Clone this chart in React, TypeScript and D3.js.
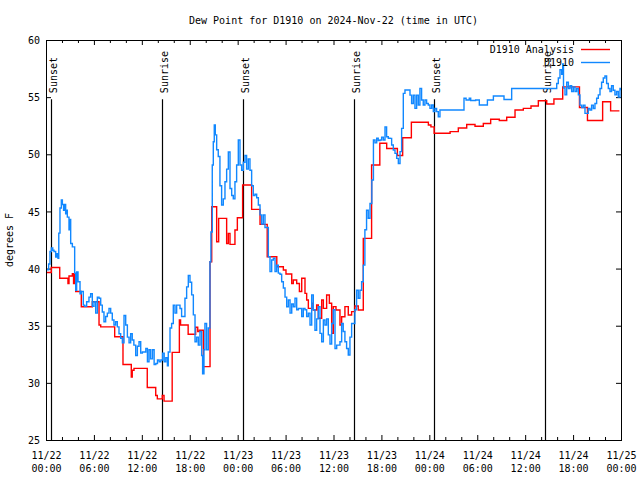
import { useEffect, useRef } from "react";
import * as d3 from "d3";

const TITLE = "Dew Point for D1910 on 2024-Nov-22 (time in UTC)";
const Y_TITLE = "degrees F";
const START_UTC = Date.UTC(2024, 10, 22, 0, 0);
const SPAN_HOURS = 72;

const Y_TICKS = [25, 30, 35, 40, 45, 50, 55, 60];
const X_MAJOR_HOURS = [0, 6, 12, 18, 24, 30, 36, 42, 48, 54, 60, 66, 72];

const SUN_LABELS = ["Sunset", "Sunrise", "Sunset", "Sunrise", "Sunset", "Sunrise"];
const SUN_HOURS = [0.63, 14.53, 24.71, 38.6, 48.62, 62.52];

const LEGEND_LABELS = ["D1910 Analysis", "D1910"];
const SERIES_COLORS = ["#ff0000", "#1188ff"];

// [hours since 11/22 00:00 UTC, deg F]
const ANALYSIS: [number, number][] = [
  [0.0, 39.65], [0.66, 40.1], [1.72, 39.15], [2.75, 38.7], [2.88, 39.35], [3.3, 39.55],
  [3.45, 38.7], [3.55, 39.5], [3.72, 38.0], [4.42, 36.66], [5.8, 37.1], [6.64, 35.06],
  [6.85, 34.9], [8.6, 34.04], [9.64, 31.6], [10.68, 30.5], [10.8, 31.1], [11.02, 31.27],
  [12.68, 29.6], [13.74, 28.9], [13.94, 28.6], [14.56, 28.9], [14.78, 28.4], [15.8, 32.67],
  [16.7, 35.5], [16.85, 35.06], [17.8, 34.25], [18.74, 34.86], [19.0, 34.5], [19.2, 34.6],
  [19.7, 31.42], [20.54, 40.6], [20.75, 45.41], [21.37, 42.35], [21.62, 44.39], [22.62, 42.2],
  [22.83, 43.08], [23.04, 42.12], [23.66, 43.37], [23.96, 44.45], [24.62, 47.31], [25.75, 45.18],
  [26.8, 43.87], [27.7, 41.04], [28.9, 40.16], [29.72, 39.87], [30.05, 39.52], [30.77, 38.7],
  [30.97, 39.0], [31.39, 38.7], [31.73, 38.0], [32.02, 39.15], [32.43, 37.83], [32.64, 37.25],
  [32.85, 36.52], [33.27, 36.96], [33.47, 36.37], [33.89, 36.81], [34.1, 35.65], [34.52, 37.25],
  [34.73, 36.52], [35.14, 37.69], [35.48, 36.96], [35.77, 34.33], [35.98, 36.67], [36.31, 36.37],
  [36.81, 35.06], [37.02, 35.79], [37.43, 36.67], [37.85, 35.94], [38.27, 36.23], [38.68, 36.72],
  [39.1, 36.37], [39.73, 42.64], [40.77, 49.06], [41.8, 50.96], [42.66, 50.5], [44.0, 49.9],
  [44.66, 51.45], [45.75, 52.8], [47.88, 52.56], [48.2, 52.4], [48.6, 51.84], [50.6, 51.98],
  [51.63, 52.3], [52.68, 52.6], [53.72, 52.45], [54.76, 52.7], [55.68, 53.06], [56.76, 52.95],
  [57.69, 53.24], [58.73, 53.87], [59.77, 54.02], [60.73, 54.22], [61.65, 54.68], [62.7, 54.4],
  [63.6, 54.84], [64.7, 55.9], [66.8, 54.1], [67.8, 52.95], [69.7, 54.6], [70.7, 53.8],
  [71.8, 53.8],
];

const OBSERVED: [number, number][] = [
  [0.0, 39.9], [0.33, 40.4], [0.5, 41.5], [0.67, 41.8], [0.85, 41.6], [1.0, 41.5], [1.21, 41.0],
  [1.34, 41.3], [1.5, 40.9], [1.6, 43.1], [1.75, 45.3], [1.92, 46.0], [2.05, 45.6], [2.2, 45.1],
  [2.3, 45.6], [2.46, 44.8], [2.6, 45.1], [2.67, 44.5], [2.88, 43.4], [3.0, 44.3], [3.09, 42.2],
  [3.3, 41.9], [3.59, 39.6], [3.72, 38.1], [3.84, 39.7], [4.01, 38.85], [4.26, 37.8], [4.42, 38.0],
  [4.67, 36.8], [4.84, 36.7], [5.09, 37.1], [5.38, 37.5], [5.59, 37.8], [5.8, 36.7], [6.01, 37.1],
  [6.22, 36.1], [6.43, 37.5], [6.64, 37.4], [6.85, 36.8], [7.05, 36.2], [7.26, 35.35], [7.47, 35.8],
  [7.68, 36.1], [7.89, 36.5], [8.1, 36.1], [8.3, 35.5], [8.51, 35.06], [8.72, 35.35], [8.93, 34.9],
  [9.14, 34.3], [9.35, 33.9], [9.56, 33.5], [9.77, 35.9], [9.98, 35.06], [10.19, 34.0], [10.4, 33.5],
  [10.6, 34.3], [10.8, 33.75], [11.0, 33.3], [11.23, 32.4], [11.44, 33.2], [11.65, 33.6], [11.86, 32.6],
  [12.07, 32.7], [12.5, 33.0], [12.7, 31.85], [12.9, 32.9], [13.1, 32.1], [13.33, 32.9], [13.54, 31.6],
  [13.75, 31.7], [13.96, 32.0], [14.17, 31.85], [14.38, 32.0], [14.6, 32.6], [14.8, 31.85], [15.0, 32.2],
  [15.2, 31.5], [15.31, 32.7], [15.53, 34.8], [15.73, 35.2], [15.94, 36.8], [16.15, 36.1], [16.36, 36.8],
  [16.78, 36.5], [16.98, 35.8], [17.4, 37.4], [17.61, 38.4], [17.82, 39.4], [18.03, 38.8], [18.24, 37.7],
  [18.45, 35.95], [18.66, 33.6], [18.86, 34.0], [19.07, 33.3], [19.28, 34.5], [19.49, 32.4], [19.61, 30.8],
  [19.78, 32.9], [19.9, 35.2], [20.11, 32.9], [20.32, 34.8], [20.53, 40.6], [20.65, 43.2], [20.82, 49.06],
  [20.95, 51.1], [21.07, 52.56], [21.2, 51.7], [21.37, 50.4], [21.57, 49.8], [21.78, 47.25], [21.99, 45.56],
  [22.2, 46.1], [22.41, 47.6], [22.62, 48.7], [22.83, 50.2], [23.04, 47.0], [23.25, 46.4], [23.45, 46.1],
  [23.66, 47.6], [23.87, 49.06], [24.08, 51.25], [24.29, 49.06], [24.5, 48.6], [24.71, 49.3], [24.92, 49.9],
  [25.12, 48.7], [25.33, 49.6], [25.54, 48.6], [25.75, 47.25], [25.96, 46.4], [26.17, 46.5], [26.38, 46.2],
  [26.59, 45.56], [26.8, 44.7], [27.0, 43.9], [27.21, 44.7], [27.42, 43.6], [27.84, 41.04], [28.05, 39.73],
  [28.26, 40.75], [28.47, 40.9], [28.68, 39.73], [28.88, 40.3], [29.09, 39.6], [29.3, 39.5], [29.51, 38.85],
  [29.72, 38.3], [29.93, 37.5], [30.14, 36.66], [30.35, 37.25], [30.56, 36.1], [30.77, 36.9], [30.97, 36.66],
  [31.18, 37.4], [31.39, 36.4], [31.6, 36.5], [32.02, 35.8], [32.22, 36.5], [32.43, 36.4], [32.64, 35.8],
  [32.85, 36.1], [33.06, 35.06], [33.27, 37.7], [33.47, 36.4], [33.68, 34.6], [33.89, 35.6], [34.1, 36.66],
  [34.31, 34.33], [34.52, 33.6], [34.73, 35.5], [34.93, 35.06], [35.14, 35.6], [35.35, 34.2], [35.56, 33.4],
  [35.77, 35.2], [35.98, 36.4], [36.19, 33.0], [36.4, 33.3], [36.81, 33.6], [37.02, 35.2], [37.22, 34.5],
  [37.43, 33.6], [37.64, 33.0], [37.85, 32.44], [38.06, 34.0], [38.27, 35.2], [38.68, 36.4], [38.89, 38.1],
  [39.1, 37.4], [39.31, 38.1], [39.52, 38.85], [39.73, 40.3], [39.93, 43.4], [40.14, 45.1], [40.35, 44.4],
  [40.57, 45.7], [40.8, 47.75], [41.0, 51.25], [41.2, 51.0], [41.41, 51.4], [41.6, 51.2], [41.82, 51.25],
  [42.03, 51.5], [42.24, 51.25], [42.45, 52.4], [42.65, 51.54], [42.86, 51.4], [43.07, 51.39], [43.28, 50.81],
  [43.49, 50.37], [43.7, 50.08], [43.91, 49.64], [44.12, 49.2], [44.33, 50.23], [44.53, 52.27], [44.74, 55.33],
  [44.95, 55.62], [45.37, 55.62], [45.58, 55.18], [45.78, 54.45], [45.99, 55.18], [46.2, 54.02], [46.41, 55.18],
  [46.62, 54.31], [46.82, 55.77], [47.03, 54.75], [47.24, 54.31], [47.45, 54.75], [47.66, 54.45], [47.87, 54.31],
  [48.08, 54.02], [48.3, 54.31], [48.5, 53.73], [48.7, 54.0], [48.91, 53.73], [49.12, 53.29], [49.33, 53.87],
  [52.34, 54.9], [52.6, 54.75], [53.0, 54.9], [53.18, 54.7], [53.8, 54.75], [54.26, 54.31], [55.27, 54.75],
  [56.02, 55.1], [57.35, 54.8], [58.31, 55.76], [63.95, 56.2], [64.15, 56.67], [64.36, 57.4], [64.57, 57.0],
  [64.7, 57.9], [64.8, 55.8], [64.99, 55.2], [65.2, 56.3], [65.41, 55.76], [65.62, 56.0], [65.82, 55.5],
  [66.03, 55.9], [66.24, 55.5], [66.45, 55.76], [66.66, 55.2], [66.86, 54.3], [67.07, 54.1], [67.28, 54.3],
  [67.49, 53.58], [67.7, 53.58], [67.9, 54.0], [68.11, 53.87], [68.32, 54.3], [68.53, 54.0], [68.74, 54.45],
  [68.95, 54.9], [69.16, 55.2], [69.37, 55.76], [69.57, 56.3], [69.78, 56.67], [69.99, 56.85], [70.2, 56.2],
  [70.41, 55.76], [70.62, 55.5], [70.82, 56.0], [71.03, 55.6], [71.24, 55.2], [71.45, 55.5], [71.66, 55.0],
  [71.87, 55.76], [72.0, 55.6],
];

const FONT = "'DejaVu Sans Mono', 'Liberation Mono', monospace";
const W = 640;
const H = 480;
const plot = { left: 46, right: 621, top: 40, bottom: 440 };

const toDate = (h: number) => new Date(START_UTC + h * 3600 * 1000);

export default function App() {
  const svgRef = useRef<SVGSVGElement>(null);

  useEffect(() => {
    if (!svgRef.current) return;
    const svg = d3.select(svgRef.current);
    svg.selectAll("*").remove();

    const x = d3
      .scaleUtc()
      .domain([toDate(0), toDate(SPAN_HOURS)])
      .range([plot.left, plot.right]);
    const y = d3.scaleLinear().domain([25, 60]).range([plot.bottom, plot.top]);

    svg.append("rect").attr("width", W).attr("height", H).attr("fill", "#fff");

    const majors = X_MAJOR_HOURS.map(toDate);
    const minors = d3
      .range(0, SPAN_HOURS + 1, 2)
      .filter((h) => h % 6 !== 0)
      .map(toDate);
    const fmtDay = d3.utcFormat("%m/%d");
    const fmtTime = d3.utcFormat("%H:%M");

    // bottom axis, ticks pointing inward
    const gx = svg
      .append("g")
      .attr("transform", `translate(0,${plot.bottom})`)
      .call(
        d3
          .axisBottom(x)
          .tickValues(majors)
          .tickSizeInner(-5)
          .tickSizeOuter(0)
          .tickFormat((d) => fmtDay(d as Date))
      );
    gx.select(".domain").remove();
    gx.attr("font-family", FONT).attr("font-size", 10);
    gx.selectAll("line").attr("stroke", "#000");
    gx.selectAll<SVGTextElement, Date>("text").each(function (d) {
      const t = d3.select(this);
      t.text(null).attr("y", null).attr("dy", null).attr("fill", "#000");
      t.append("tspan").attr("x", 0).attr("y", 19).text(fmtDay(d));
      t.append("tspan").attr("x", 0).attr("y", 32).text(fmtTime(d));
    });

    svg
      .append("g")
      .attr("transform", `translate(0,${plot.bottom})`)
      .call(d3.axisBottom(x).tickValues(minors).tickSizeInner(-3).tickSizeOuter(0).tickFormat(() => ""))
      .call((g) => g.select(".domain").remove())
      .selectAll("line")
      .attr("stroke", "#000");

    // mirrored top ticks
    svg
      .append("g")
      .attr("transform", `translate(0,${plot.top})`)
      .call(d3.axisTop(x).tickValues(majors).tickSizeInner(-5).tickSizeOuter(0).tickFormat(() => ""))
      .call((g) => g.select(".domain").remove())
      .selectAll("line")
      .attr("stroke", "#000");
    svg
      .append("g")
      .attr("transform", `translate(0,${plot.top})`)
      .call(d3.axisTop(x).tickValues(minors).tickSizeInner(-3).tickSizeOuter(0).tickFormat(() => ""))
      .call((g) => g.select(".domain").remove())
      .selectAll("line")
      .attr("stroke", "#000");

    // y axes
    const gy = svg
      .append("g")
      .attr("transform", `translate(${plot.left},0)`)
      .call(d3.axisLeft(y).tickValues(Y_TICKS).tickSizeInner(-5).tickSizeOuter(0).tickPadding(6));
    gy.select(".domain").remove();
    gy.attr("font-family", FONT).attr("font-size", 10);
    gy.selectAll("line").attr("stroke", "#000");
    gy.selectAll("text").attr("fill", "#000").attr("x", -6).attr("dy", "0.36em");

    svg
      .append("g")
      .attr("transform", `translate(${plot.right},0)`)
      .call(d3.axisRight(y).tickValues(Y_TICKS).tickSizeInner(-5).tickSizeOuter(0).tickFormat(() => ""))
      .call((g) => g.select(".domain").remove())
      .selectAll("line")
      .attr("stroke", "#000");

    // sunrise / sunset markers
    const sun = svg
      .append("g")
      .selectAll("g")
      .data(SUN_HOURS.map((h, i) => ({ h, label: SUN_LABELS[i] })))
      .enter()
      .append("g");
    sun
      .append("line")
      .attr("x1", (d) => Math.round(x(toDate(d.h))) + 0.5)
      .attr("x2", (d) => Math.round(x(toDate(d.h))) + 0.5)
      .attr("y1", y(55) + 2)
      .attr("y2", plot.bottom)
      .attr("stroke", "#000")
      .attr("stroke-width", 1.2);
    sun
      .append("text")
      .attr("transform", (d) => `translate(${Math.round(x(toDate(d.h))) + 6},${y(55) - 4}) rotate(-90)`)
      .attr("font-family", FONT)
      .attr("font-size", 10)
      .attr("fill", "#000")
      .text((d) => d.label);

    // data
    const line = d3
      .line<[number, number]>()
      .x((d) => x(toDate(d[0])))
      .y((d) => y(d[1]))
      .curve(d3.curveStepAfter);
    [ANALYSIS, OBSERVED].forEach((s, i) => {
      svg
        .append("path")
        .datum(s)
        .attr("d", line)
        .attr("fill", "none")
        .attr("stroke", SERIES_COLORS[i])
        .attr("stroke-width", 1.4);
    });

    // frame
    svg
      .append("rect")
      .attr("x", plot.left + 0.5)
      .attr("y", plot.top + 0.5)
      .attr("width", plot.right - plot.left)
      .attr("height", plot.bottom - plot.top)
      .attr("fill", "none")
      .attr("stroke", "#000");

    // legend
    const lg = svg
      .append("g")
      .selectAll("g")
      .data(LEGEND_LABELS)
      .enter()
      .append("g")
      .attr("transform", (_d, i) => `translate(0,${49.5 + i * 13})`);
    lg.append("text")
      .attr("x", 574)
      .attr("dy", "0.36em")
      .attr("text-anchor", "end")
      .attr("font-family", FONT)
      .attr("font-size", 10)
      .attr("fill", "#000")
      .text((d) => d);
    lg.append("line")
      .attr("x1", 581)
      .attr("x2", 610)
      .attr("stroke", (_d, i) => SERIES_COLORS[i])
      .attr("stroke-width", 1.4);

    // titles
    svg
      .append("text")
      .attr("x", (plot.left + plot.right) / 2)
      .attr("y", 24)
      .attr("text-anchor", "middle")
      .attr("font-family", FONT)
      .attr("font-size", 10)
      .attr("fill", "#000")
      .text(TITLE);
    svg
      .append("text")
      .attr("transform", `translate(13,${(plot.top + plot.bottom) / 2}) rotate(-90)`)
      .attr("text-anchor", "middle")
      .attr("font-family", FONT)
      .attr("font-size", 10)
      .attr("fill", "#000")
      .text(Y_TITLE);
  }, []);

  return (
    <svg
      ref={svgRef}
      width={W}
      height={H}
      style={{ position: "absolute", left: 0, top: 0, display: "block" }}
    />
  );
}
